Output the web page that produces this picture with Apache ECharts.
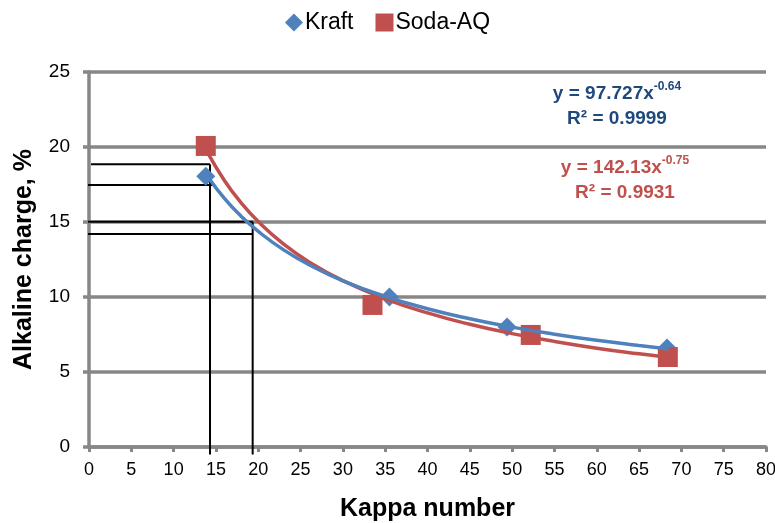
<!DOCTYPE html>
<html><head><meta charset="utf-8">
<script src="https://cdn.jsdelivr.net/npm/echarts@6/dist/echarts.min.js"></script>
<style>html,body{margin:0;padding:0;background:#fff}#c{width:775px;height:523px}</style>
</head><body><div id="c"></div>
<script>
// Measured points
const kraftX = [13.8, 35.5, 49.4, 68.3];
const kraftY = [18.05, 10.0, 8.0, 6.6];
const sodaX = [13.8, 33.5, 52.2, 68.4];
const sodaY = [20.07, 9.47, 7.47, 6.0];
// Trendline points (values read from the plotted power fits)
const trendX = [14, 16, 18, 20, 23, 26, 30, 35, 40, 45, 50, 55, 60, 65, 68.5];
const kraftTrendY = [18.05, 16.57, 15.37, 14.37, 13.14, 12.15, 11.08, 10.04, 9.22, 8.55, 7.99, 7.52, 7.11, 6.76, 6.53];
const sodaTrendY = [19.64, 17.77, 16.26, 15.03, 13.53, 12.34, 11.09, 9.88, 8.94, 8.18, 7.56, 7.04, 6.59, 6.21, 5.97];
// Black guide lines [x1, y1, x2, y2]
const guideLines = [
  [0.24, 18.85, 14.3, 18.85],
  [-0.47, 17.47, 14.9, 17.47],
  [-0.74, 15.02, 19.34, 15.02],
  [-0.74, 14.2, 19.34, 14.2],
  [14.3, -0.5, 14.3, 18.85],
  [19.34, -0.5, 19.34, 15.02]
];
const xTicks = [0, 80, 5];
const yTicks = [0, 25, 5];
const eqKraft = ['y = 97.727x', '-0.64', 'R² = 0.9999'];
const eqSoda = ['y = 142.13x', '-0.75', 'R² = 0.9931'];

const zip = (xs, ys) => xs.map((x, i) => [x, ys[i]]);
const chart = echarts.init(document.getElementById('c'));
const gridColor = '#878787';
const series = [];
guideLines.forEach(l => series.push({
  type: 'line', data: [[l[0], l[1]], [l[2], l[3]]], symbol: 'none', clip: false,
  lineStyle: {color: '#000', width: 2}, z: 3, silent: true
}));
series.push({name: 'Kraft', type: 'scatter', data: zip(kraftX, kraftY), symbol: 'diamond', symbolSize: 19,
  itemStyle: {color: '#4F81BD', opacity: 1}, z: 4});
series.push({name: 'Soda-AQ', type: 'scatter', data: zip(sodaX, sodaY), symbol: 'rect', symbolSize: 20,
  itemStyle: {color: '#C0504D', opacity: 1}, z: 4});
series.push({type: 'line', data: zip(trendX, sodaTrendY), smooth: true, symbol: 'none',
  lineStyle: {color: '#C0504D', width: 3.5}, z: 5});
series.push({type: 'line', data: zip(trendX, kraftTrendY), smooth: true, symbol: 'none',
  lineStyle: {color: '#4F81BD', width: 3.5}, z: 6});

function eqText(eq, color, x, y) {
  const base = {fontSize: 19, fontWeight: 'bold', fill: color, fontFamily: 'Liberation Sans'};
  return {type: 'text', x: x, y: y, z: 10, style: {
    text: '{b|' + eq[0] + '}{s|' + eq[1] + '}\n{b|' + eq[2] + '}', align: 'center', verticalAlign: 'middle',
    rich: {b: Object.assign({lineHeight: 25}, base),
           s: Object.assign({}, base, {fontSize: 12, verticalAlign: 'top', lineHeight: 25})}
  }};
}

chart.setOption({
  animation: false,
  textStyle: {fontFamily: 'Liberation Sans'},
  legend: {
    top: 6, left: 'center', itemGap: 22, itemWidth: 18, itemHeight: 18,
    data: [{name: 'Kraft', icon: 'diamond'}, {name: 'Soda-AQ', icon: 'rect'}],
    itemStyle: {opacity: 1},
    textStyle: {fontSize: 23, color: '#000', fontFamily: 'Liberation Sans', padding: [0, 0, 0, -3]}
  },
  grid: {left: 89, right: 9, top: 72, bottom: 76, containLabel: false, outerBoundsMode: 'none'},
  xAxis: {
    type: 'value', min: xTicks[0], max: xTicks[1], interval: xTicks[2],
    name: 'Kappa number', nameLocation: 'middle', nameGap: 50,
    nameTextStyle: {fontSize: 25, fontWeight: 'bold', color: '#000'},
    axisLine: {show: true, lineStyle: {color: gridColor, width: 3.5}},
    axisTick: {show: true, length: 5, lineStyle: {color: gridColor, width: 3}},
    axisLabel: {fontSize: 18, color: '#000', fontFamily: 'Liberation Sans', margin: 14},
    splitLine: {show: false}
  },
  yAxis: {
    type: 'value', min: yTicks[0], max: yTicks[1], interval: yTicks[2],
    name: 'Alkaline charge, %', nameLocation: 'middle', nameGap: 52,
    nameTextStyle: {fontSize: 25, fontWeight: 'bold', color: '#000'},
    axisLine: {show: true, lineStyle: {color: gridColor, width: 3.5}},
    axisTick: {show: true, length: 6, lineStyle: {color: gridColor, width: 3.5}},
    axisLabel: {fontSize: 19, color: '#000', fontFamily: 'Liberation Sans', margin: 19},
    splitLine: {show: true, lineStyle: {color: gridColor, width: 3.5}}
  },
  graphic: [
    eqText(eqKraft, '#1F497D', 617, 106),
    eqText(eqSoda, '#C0504D', 625, 180)
  ],
  series: series
});
</script></body></html>
